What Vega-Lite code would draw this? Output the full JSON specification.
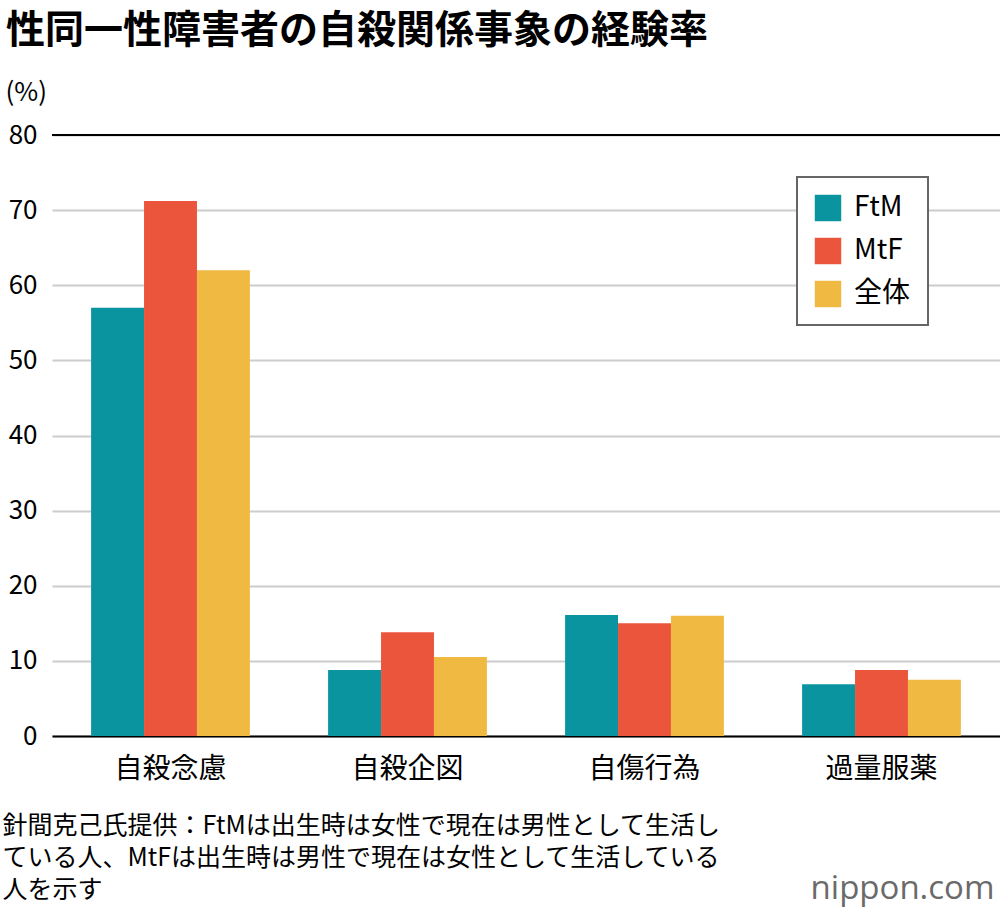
{
  "$schema": "https://vega.github.io/schema/vega-lite/v6.json",
  "autosize": {"type": "none"},
  "padding": {"left": 52, "top": 135, "right": 0, "bottom": 174},
  "width": 948,
  "height": 601,
  "background": "white",
  "config": {
    "font": "Noto Sans CJK JP",
    "view": {"stroke": null}
  },
  "title": {
    "text": "性同一性障害者の自殺関係事象の経験率",
    "anchor": "start",
    "frame": "group",
    "fontSize": 39,
    "fontWeight": "bold",
    "color": "#000000",
    "dx": -46,
    "dy": 53,
    "offset": 42,
    "baseline": "bottom"
  },
  "data": {
    "values": [
      {"cat": "自殺念慮", "grp": "FtM", "v": 57.0},
      {"cat": "自殺念慮", "grp": "MtF", "v": 71.2},
      {"cat": "自殺念慮", "grp": "全体", "v": 62.0},
      {"cat": "自殺企図", "grp": "FtM", "v": 8.8},
      {"cat": "自殺企図", "grp": "MtF", "v": 13.8},
      {"cat": "自殺企図", "grp": "全体", "v": 10.5},
      {"cat": "自傷行為", "grp": "FtM", "v": 16.1},
      {"cat": "自傷行為", "grp": "MtF", "v": 15.0},
      {"cat": "自傷行為", "grp": "全体", "v": 16.0},
      {"cat": "過量服薬", "grp": "FtM", "v": 6.9},
      {"cat": "過量服薬", "grp": "MtF", "v": 8.8},
      {"cat": "過量服薬", "grp": "全体", "v": 7.5}
    ]
  },
  "resolve": {"axis": {"y": "independent"}},
  "layer": [
    {
      "mark": {"type": "bar"},
      "encoding": {
        "x": {
          "field": "cat",
          "type": "nominal",
          "sort": ["自殺念慮", "自殺企図", "自傷行為", "過量服薬"],
          "scale": {"paddingInner": 0.33, "paddingOuter": 0.165},
          "axis": {
            "labelAngle": 0,
            "labelFontSize": 28,
            "labelColor": "#000000",
            "labelPadding": 19,
            "ticks": false,
            "domainColor": "#000000",
            "domainWidth": 2,
            "title": [
              "針間克己氏提供：FtMは出生時は女性で現在は男性として生活し",
              "ている人、MtFは出生時は男性で現在は女性として生活している",
              "人を示す"
            ],
            "titleFontSize": 25,
            "titleFontWeight": "normal",
            "titleColor": "#000000",
            "titleAnchor": "start",
            "titleAlign": "left",
            "titleBaseline": "top",
            "titleX": -50,
            "titleY": 77,
            "titleLineHeight": 32
          }
        },
        "xOffset": {
          "field": "grp",
          "type": "nominal",
          "sort": ["FtM", "MtF", "全体"],
          "scale": {"paddingInner": 0, "paddingOuter": 0}
        },
        "y": {
          "field": "v",
          "type": "quantitative",
          "scale": {"domain": [0, 80]},
          "axis": {
            "values": [0, 10, 20, 30, 40, 50, 60, 70, 80],
            "labelFontSize": 26,
            "labelColor": "#000000",
            "labelPadding": 15,
            "ticks": false,
            "domain": false,
            "gridColor": "#cccccc",
            "gridWidth": 2,
            "title": "(%)",
            "titleFontSize": 26,
            "titleFontWeight": "normal",
            "titleColor": "#000000",
            "titleAngle": 0,
            "titleAlign": "left",
            "titleBaseline": "top",
            "titleX": -47,
            "titleY": -56
          }
        },
        "color": {
          "field": "grp",
          "type": "nominal",
          "sort": ["FtM", "MtF", "全体"],
          "scale": {"domain": ["FtM", "MtF", "全体"], "range": ["#0a94a0", "#eb553c", "#f0b942"]},
          "legend": {
            "title": null,
            "orient": "none",
            "legendX": 745,
            "legendY": 42,
            "symbolType": "square",
            "symbolSize": 700,
            "symbolStrokeWidth": 0,
            "labelFontSize": 28,
            "labelColor": "#000000",
            "labelOffset": 12,
            "labelExpr": "datum.label + '       '",
            "rowPadding": 15,
            "padding": 17,
            "strokeColor": "#666666",
            "fillColor": "white",
            "labelLimit": 300,
            "encode": {"legend": {"update": {"strokeWidth": {"value": 2}}}}
          }
        }
      }
    },
    {
      "data": {"values": [{"y80": 80}]},
      "mark": {"type": "rule", "color": "#000000", "strokeWidth": 2},
      "encoding": {
        "y": {
          "field": "y80",
          "type": "quantitative",
          "axis": {
            "orient": "right",
            "labels": false,
            "ticks": false,
            "domain": false,
            "grid": false,
            "title": "nippon.com",
            "titleFontSize": 33,
            "titleFont": "Open Sans",
            "titleFontWeight": "normal",
            "titleColor": "#6a6a6a",
            "titleAngle": 0,
            "titleAlign": "right",
            "titleBaseline": "bottom",
            "titleX": -6,
            "titleY": 770
          }
        }
      }
    }
  ]
}
